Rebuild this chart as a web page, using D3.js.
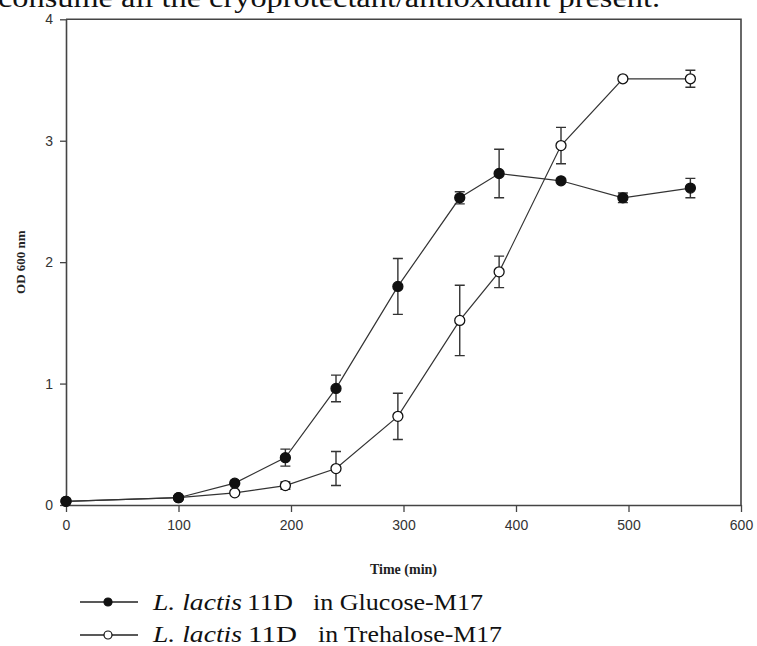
<!DOCTYPE html>
<html><head><meta charset="utf-8">
<script src="https://cdn.jsdelivr.net/npm/d3@7"></script>
<style>body{margin:0;background:#fff}svg{display:block}</style>
</head><body>
<svg id="c" width="757" height="646"></svg>
<script>
const times = [0, 100, 150, 195, 240, 295, 350, 385, 440, 495, 555];
const glucose = [0.03, 0.06, 0.18, 0.39, 0.96, 1.80, 2.53, 2.73, 2.67, 2.53, 2.61];
const glucoseErr = [0, 0, 0.02, 0.07, 0.11, 0.23, 0.05, 0.20, 0.01, 0.04, 0.08];
const trehalose = [0.03, 0.06, 0.10, 0.16, 0.30, 0.73, 1.52, 1.92, 2.96, 3.51, 3.51];
const trehaloseErr = [0, 0, 0.01, 0.03, 0.14, 0.19, 0.29, 0.13, 0.15, 0.01, 0.07];
const xTicks = [0, 100, 200, 300, 400, 500, 600];
const yTicks = [0, 1, 2, 3, 4];

const svg = d3.select("#c");
const x = d3.scaleLinear().domain([0, 600]).range([66, 741]);
const y = d3.scaleLinear().domain([0, 4]).range([505, 19.3]);
const serif = "'Liberation Serif', 'Times New Roman', serif";
const sans = "'Liberation Sans', Arial, sans-serif";

// cut-off caption line at top
svg.append("text").attr("x", -2).attr("y", 6.5)
  .attr("font-family", serif).attr("font-size", 27)
  .attr("textLength", 662).attr("lengthAdjust", "spacingAndGlyphs")
  .attr("fill", "#111").text("consume all the cryoprotectant/antioxidant present.");

// frame
svg.append("path").attr("d", `M${x(0)},${y(4)}H${x(600)}V${y(0)}`)
  .attr("fill", "none").attr("stroke", "#444").attr("stroke-width", 1.6);

const xAxis = svg.append("g").attr("transform", `translate(0,${y(0)})`)
  .call(d3.axisBottom(x).tickValues(xTicks).tickFormat(d3.format("d")).tickSize(7).tickPadding(8).tickSizeOuter(0));
const yAxis = svg.append("g").attr("transform", `translate(${x(0)},0)`)
  .call(d3.axisLeft(y).tickValues(yTicks).tickFormat(d3.format("d")).tickSize(6).tickPadding(7).tickSizeOuter(0));
[xAxis, yAxis].forEach(a => {
  a.select(".domain").attr("stroke", "#444").attr("stroke-width", 1.6);
  a.selectAll(".tick line").attr("stroke", "#444").attr("stroke-width", 1.3);
  a.selectAll(".tick text").attr("font-family", sans)
    .attr("font-size", 14).attr("fill", "#333");
});

svg.append("text").attr("x", x(300)).attr("y", 574).attr("text-anchor", "middle")
  .attr("font-family", serif).attr("font-size", 14)
  .attr("font-weight", "bold").attr("fill", "#222").text("Time (min)");
svg.append("text").attr("transform", `translate(22,${y(2)}) rotate(-90)`)
  .attr("text-anchor", "middle").attr("dominant-baseline", "middle")
  .attr("font-family", serif).attr("font-size", 13)
  .attr("font-weight", "bold").attr("fill", "#222").text("OD 600 nm");

const line = d3.line().x(d => x(d[0])).y(d => y(d[1]));
function series(vals, errs, filled) {
  const pts = times.map((t, i) => [t, vals[i], errs[i]]);
  svg.append("path").datum(pts).attr("d", line).attr("fill", "none")
    .attr("stroke", "#333").attr("stroke-width", 1.2);
  const eb = svg.append("g").attr("stroke", "#333").attr("stroke-width", 1.4);
  pts.filter(p => p[2] > 0.02).forEach(p => {
    const cx = x(p[0]), y1 = y(p[1] + p[2]), y2 = y(p[1] - p[2]);
    eb.append("path").attr("fill", "none")
      .attr("d", `M${cx},${y1}V${y2}M${cx-5},${y1}H${cx+5}M${cx-5},${y2}H${cx+5}`);
  });
  svg.append("g").selectAll("circle").data(pts).join("circle")
    .attr("cx", d => x(d[0])).attr("cy", d => y(d[1])).attr("r", 5)
    .attr("fill", filled ? "#111" : "#fff").attr("stroke", "#111").attr("stroke-width", 1.3);
}
series(trehalose, trehaloseErr, false);
series(glucose, glucoseErr, true);

// legend
const legend = [
  {y: 602, base: 610, filled: true, medium: "in Glucose-M17", mx: 313, mw: 170, sx: 247, sw: 46},
  {y: 635, base: 642, filled: false, medium: "in Trehalose-M17", mx: 318, mw: 184, sx: 248, sw: 49}
];
legend.forEach(l => {
  svg.append("line").attr("x1", 80).attr("x2", 138).attr("y1", l.y).attr("y2", l.y)
    .attr("stroke", "#222").attr("stroke-width", 1.4);
  svg.append("circle").attr("cx", 108).attr("cy", l.y).attr("r", 4)
    .attr("fill", l.filled ? "#111" : "#fff").attr("stroke", "#111").attr("stroke-width", 1.2);
  const txt = (xx, w, s, italic) => svg.append("text").attr("x", xx).attr("y", l.base)
    .attr("font-family", serif).attr("font-size", 24).attr("fill", "#111")
    .attr("font-style", italic ? "italic" : "normal")
    .attr("textLength", w).attr("lengthAdjust", "spacingAndGlyphs").text(s);
  txt(153, 89, "L. lactis", true);
  txt(l.sx, l.sw, "11D", false);
  txt(l.mx, l.mw, l.medium, false);
});
</script>
</body></html>
